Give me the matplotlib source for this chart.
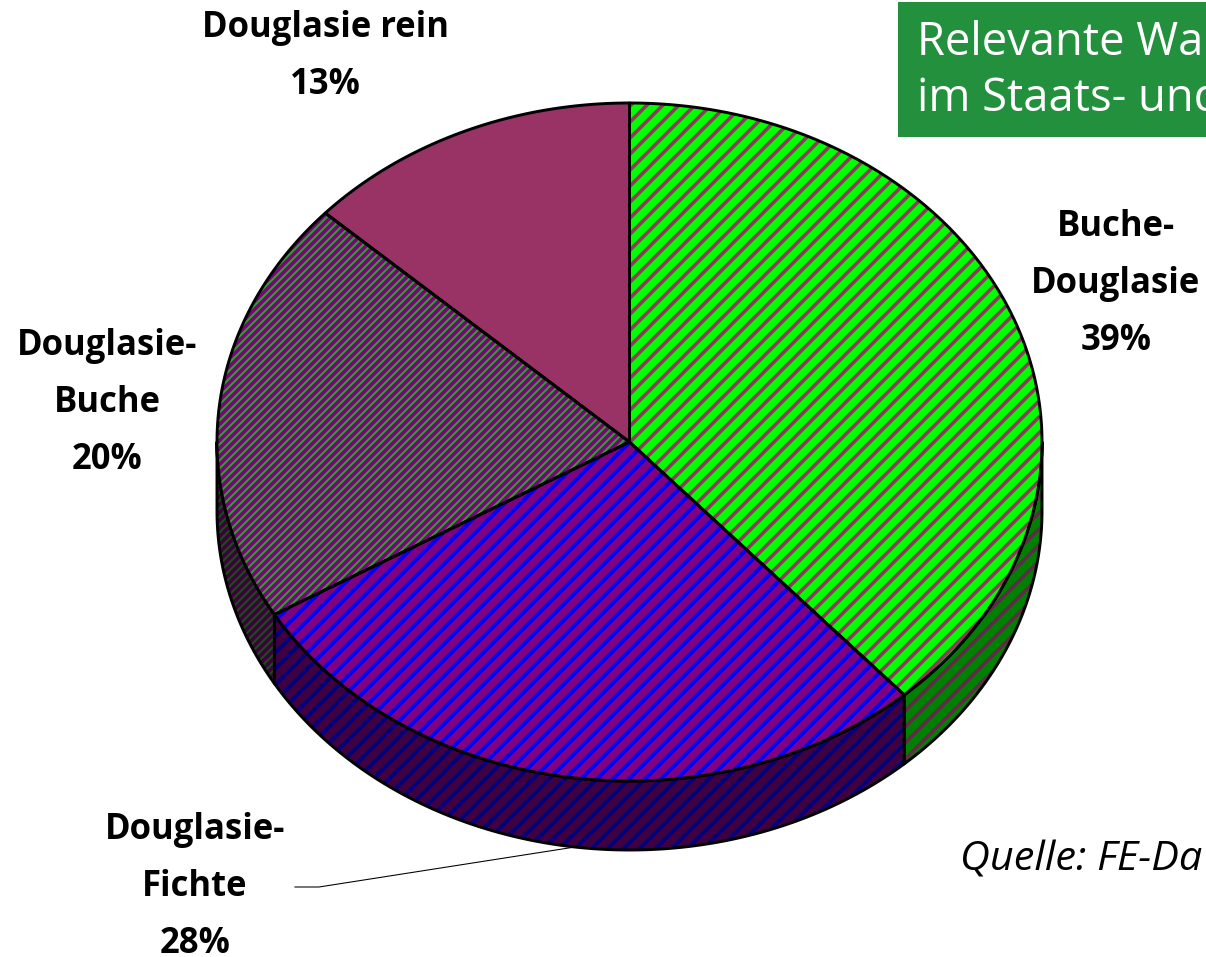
# -*- coding: utf-8 -*-
"""Anteile der Waldentwicklungstypen als Torte mit Kante."""
import numpy as np
import matplotlib
matplotlib.use("Agg")
import matplotlib.pyplot as plt
from matplotlib.patches import Polygon, Rectangle

# Anteile (Reihenfolge: im Uhrzeigersinn ab 12 Uhr)
names = ["Buche-\nDouglasie", "Douglasie-\nFichte", "Douglasie-\nBuche", "Douglasie rein"]
shares = [38.4, 28.1, 20.3, 13.2]
labels = ["39%", "28%", "20%", "13%"]

top_face = ["#00ff00", "#800080", "#800080", "#993366"]
top_stripe = ["#993366", "#0000ff", "#2f9f2f", None]
side_face = ["#008000", "#400040", "#400040", "#4c1a33"]
side_stripe = ["#66264d", "#000080", "#1a4d1a", None]
stripe_hatch = ["//", "//", "////", None]
stripe_lw = [2.7, 3.0, 1.5, 0]

label_pos = [(1116, 284), (195, 887), (107, 403), (325, 56)]

DPI = 96
CX, CY, RX, RY, DEPTH = 629.5, 442, 412.5, 339, 69

plt.rcParams["font.family"] = ["Open Sans", "DejaVu Sans"]
fig = plt.figure(figsize=(1206 / DPI, 957.01 / DPI), dpi=DPI)
ax = fig.add_axes([0, 0, 1, 1])
ax.set_xlim(0, 1206)
ax.set_ylim(957, 0)
ax.axis("off")


def rim(a0, a1, dy=0):
    # Punkte auf der Ellipse, Winkel im Uhrzeigersinn ab 12 Uhr
    t = np.radians(np.linspace(a0, a1, 200))
    return np.column_stack([CX + RX * np.sin(t), CY + dy - RY * np.cos(t)])


def striped(points, face, stripe, hatch, lw, z):
    ax.add_patch(Polygon(points, closed=True, facecolor=face, edgecolor="none", zorder=z))
    if stripe:
        p = Polygon(points, closed=True, facecolor="none", edgecolor=stripe,
                    hatch=hatch, linewidth=0, zorder=z + 0.1)
        p.set_hatch_linewidth(lw)
        ax.add_patch(p)
    ax.add_patch(Polygon(points, closed=True, facecolor="none", edgecolor="black",
                         linewidth=2.2, joinstyle="round", zorder=z + 0.2))


edges = np.concatenate([[0], np.cumsum(shares)]) * 3.6

# Kante: nur der vordere Teil der Ellipse (90..270 Grad) ist sichtbar
for i in range(len(shares)):
    a0, a1 = max(edges[i], 90), min(edges[i + 1], 270)
    if a1 <= a0:
        continue
    pts = np.vstack([rim(a0, a1), rim(a0, a1, DEPTH)[::-1]])
    striped(pts, side_face[i], side_stripe[i], stripe_hatch[i], stripe_lw[i], 2)

# Deckel
for i in range(len(shares)):
    pts = np.vstack([[(CX, CY)], rim(edges[i], edges[i + 1])])
    striped(pts, top_face[i], top_stripe[i], stripe_hatch[i], stripe_lw[i], 3)

# Beschriftung
for name, lab, (x, y) in zip(names, labels, label_pos):
    parts = name.split("\n")
    lines = parts + [lab]
    y0 = y - 57 * (len(parts) - 1) if len(parts) > 1 else y - 28
    for k, line in enumerate(lines):
        ax.text(x, y0 + 57 * k, line, ha="center", va="center", fontsize=26,
                fontweight="bold", color="black", zorder=6)

# Führungslinie zu Douglasie-Fichte
ax.plot([295, 319, 575], [887, 887, 847], color="black", lw=0.8, zorder=1)

# Titelkasten, läuft rechts aus dem Bild
ax.add_patch(Rectangle((898, 2), 320, 135, facecolor="#22903c", edgecolor="none", zorder=5))
ax.text(917, 43, "Relevante Wa", ha="left", va="center", fontsize=34, color="white", zorder=6)
ax.text(917, 99, "im Staats- und", ha="left", va="center", fontsize=34, color="white", zorder=6)
ax.text(960, 860, "Quelle: FE-Da", ha="left", va="center", fontsize=31, style="italic",
        color="black", zorder=6)

fig.savefig("out.png", dpi=DPI)
